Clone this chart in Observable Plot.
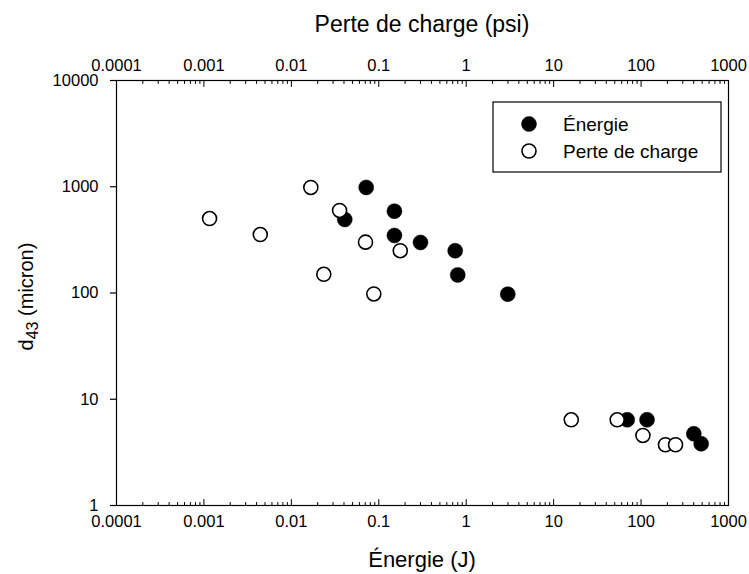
<!DOCTYPE html>
<html><head><meta charset="utf-8">
<script src="https://cdn.jsdelivr.net/npm/d3@7"></script>
<script src="https://cdn.jsdelivr.net/npm/@observablehq/plot@0.6"></script>
<style>body{margin:0;background:#fff}#chart svg{display:block}</style>
</head><body><div id="chart"></div>
<script>
// Series: Énergie (filled) — x in J, y = d43 in micron
const energieX = [0.0718, 0.0408, 0.151, 0.151, 0.300, 0.748, 0.80, 2.99, 69.4, 117, 401, 487];
const energieY = [985, 492, 589, 348, 299, 250, 148, 97.5, 6.41, 6.41, 4.73, 3.81];
// Series: Perte de charge (open) — x in psi, y = d43 in micron
const perteX = [0.00116, 0.00441, 0.0167, 0.0235, 0.0356, 0.0705, 0.0877, 0.176, 15.9, 53.3, 105, 190, 248];
const perteY = [502, 355, 985, 150, 598, 301, 98, 250, 6.41, 6.41, 4.56, 3.73, 3.73];

const xTicks = [0.0001, 0.001, 0.01, 0.1, 1, 10, 100, 1000];
const xTickLabels = ["0.0001", "0.001", "0.01", "0.1", "1", "10", "100", "1000"];
const yTicks = [1, 10, 100, 1000, 10000];
const yTickLabels = ["1", "10", "100", "1000", "10000"];
const minorMult = [2, 3, 4, 5, 6, 7, 8, 9];
const seriesNames = ["Énergie", "Perte de charge"];
const xTitleBottom = "Énergie (J)";
const xTitleTop = "Perte de charge (psi)";
const yTitleMain = "d", yTitleSub = "43", yTitleRest = " (micron)";

const xMinor = xTicks.slice(0, -1).flatMap(d => minorMult.map(m => d * m));
const energie = energieX.map((x, i) => ({x, y: energieY[i]}));
const perte = perteX.map((x, i) => ({x, y: perteY[i]}));

const FONT = "'Liberation Sans', Arial, Helvetica, sans-serif";
const TICKFS = 16.5;
const W = 749, H = 574, mL = 116, mR = 21, mT = 80, mB = 69;
const tickUp = {draw(ctx, l) { ctx.moveTo(0, 0); ctx.lineTo(0, -l); }};
const xFmt = d => xTickLabels[xTicks.indexOf(d)];
const yFmt = d => yTickLabels[yTicks.indexOf(d)];

const chart = Plot.plot({
  width: W, height: H,
  marginLeft: mL, marginRight: mR, marginTop: mT, marginBottom: mB,
  x: {type: "log", domain: [1e-4, 1e3]},
  y: {type: "log", domain: [1, 1e4]},
  style: {fontFamily: FONT, fontSize: TICKFS + "px", color: "black", background: "white"},
  marks: [
    Plot.axisY(yTicks, {anchor: "left", tickSize: 6, tickPadding: 12, tickFormat: yFmt, label: null, strokeWidth: 1.2, fontSize: TICKFS}),
    Plot.axisX(xTicks, {anchor: "bottom", tickSize: 0, tickPadding: 10, tickFormat: xFmt, label: null, fontSize: TICKFS}),
    Plot.axisX(xTicks, {anchor: "top", tickSize: 0, tickPadding: 10, tickFormat: xFmt, label: null, fontSize: TICKFS}),
    Plot.vectorX(xTicks, {x: d => d, frameAnchor: "bottom", length: 6, rotate: 0, anchor: "start", shape: tickUp, stroke: "black", strokeWidth: 1}),
    Plot.vectorX(xMinor, {x: d => d, frameAnchor: "bottom", length: 3, rotate: 0, anchor: "start", shape: tickUp, stroke: "black", strokeWidth: 1}),
    Plot.vectorX(xTicks, {x: d => d, frameAnchor: "top", length: 6, rotate: 180, anchor: "start", shape: tickUp, stroke: "black", strokeWidth: 1}),
    Plot.vectorX(xMinor, {x: d => d, frameAnchor: "top", length: 3, rotate: 180, anchor: "start", shape: tickUp, stroke: "black", strokeWidth: 1}),
    Plot.frame({stroke: "black", strokeWidth: 1.2}),
    Plot.dot(energie, {x: "x", y: "y", r: 7.5, fill: "black", stroke: "black", strokeWidth: 0.5}),
    Plot.dot(perte, {x: "x", y: "y", r: 7, fill: "white", stroke: "black", strokeWidth: 1.6})
  ]
});
document.getElementById("chart").appendChild(chart);

// Titles and legend
const svg = d3.select(chart);
const L = mL, R = W - mR, T = mT, B = H - mB;
const cx = (L + R) / 2;
const deco = svg.append("g").attr("font-family", FONT).attr("fill", "black");
deco.append("text").attr("x", cx).attr("y", 32).attr("text-anchor", "middle").attr("font-size", 23).text(xTitleTop);
deco.append("text").attr("x", cx).attr("y", 567).attr("text-anchor", "middle").attr("font-size", 22).text(xTitleBottom);
const yt = deco.append("text").attr("transform", `translate(33,${(T + B) / 2 + 4}) rotate(-90)`).attr("text-anchor", "middle").attr("font-size", 20);
yt.append("tspan").text(yTitleMain);
yt.append("tspan").attr("font-size", 16).attr("dy", 5).text(yTitleSub);
yt.append("tspan").attr("dy", -5).text(yTitleRest);

const lg = deco.append("g").attr("transform", `translate(${R - 235},${T + 22})`);
lg.append("rect").attr("x", 0).attr("y", 0).attr("width", 228).attr("height", 70).attr("fill", "white").attr("stroke", "black").attr("stroke-width", 1.2);
seriesNames.forEach((name, i) => {
  const yy = 22 + i * 27;
  lg.append("circle").attr("cx", 36).attr("cy", yy).attr("r", i === 0 ? 7.5 : 7)
    .attr("fill", i === 0 ? "black" : "white").attr("stroke", "black").attr("stroke-width", i === 0 ? 0.5 : 1.6);
  lg.append("text").attr("x", 70).attr("y", yy + 6.5).attr("text-anchor", "start").attr("font-size", 19).text(name);
});
</script>
</body></html>
